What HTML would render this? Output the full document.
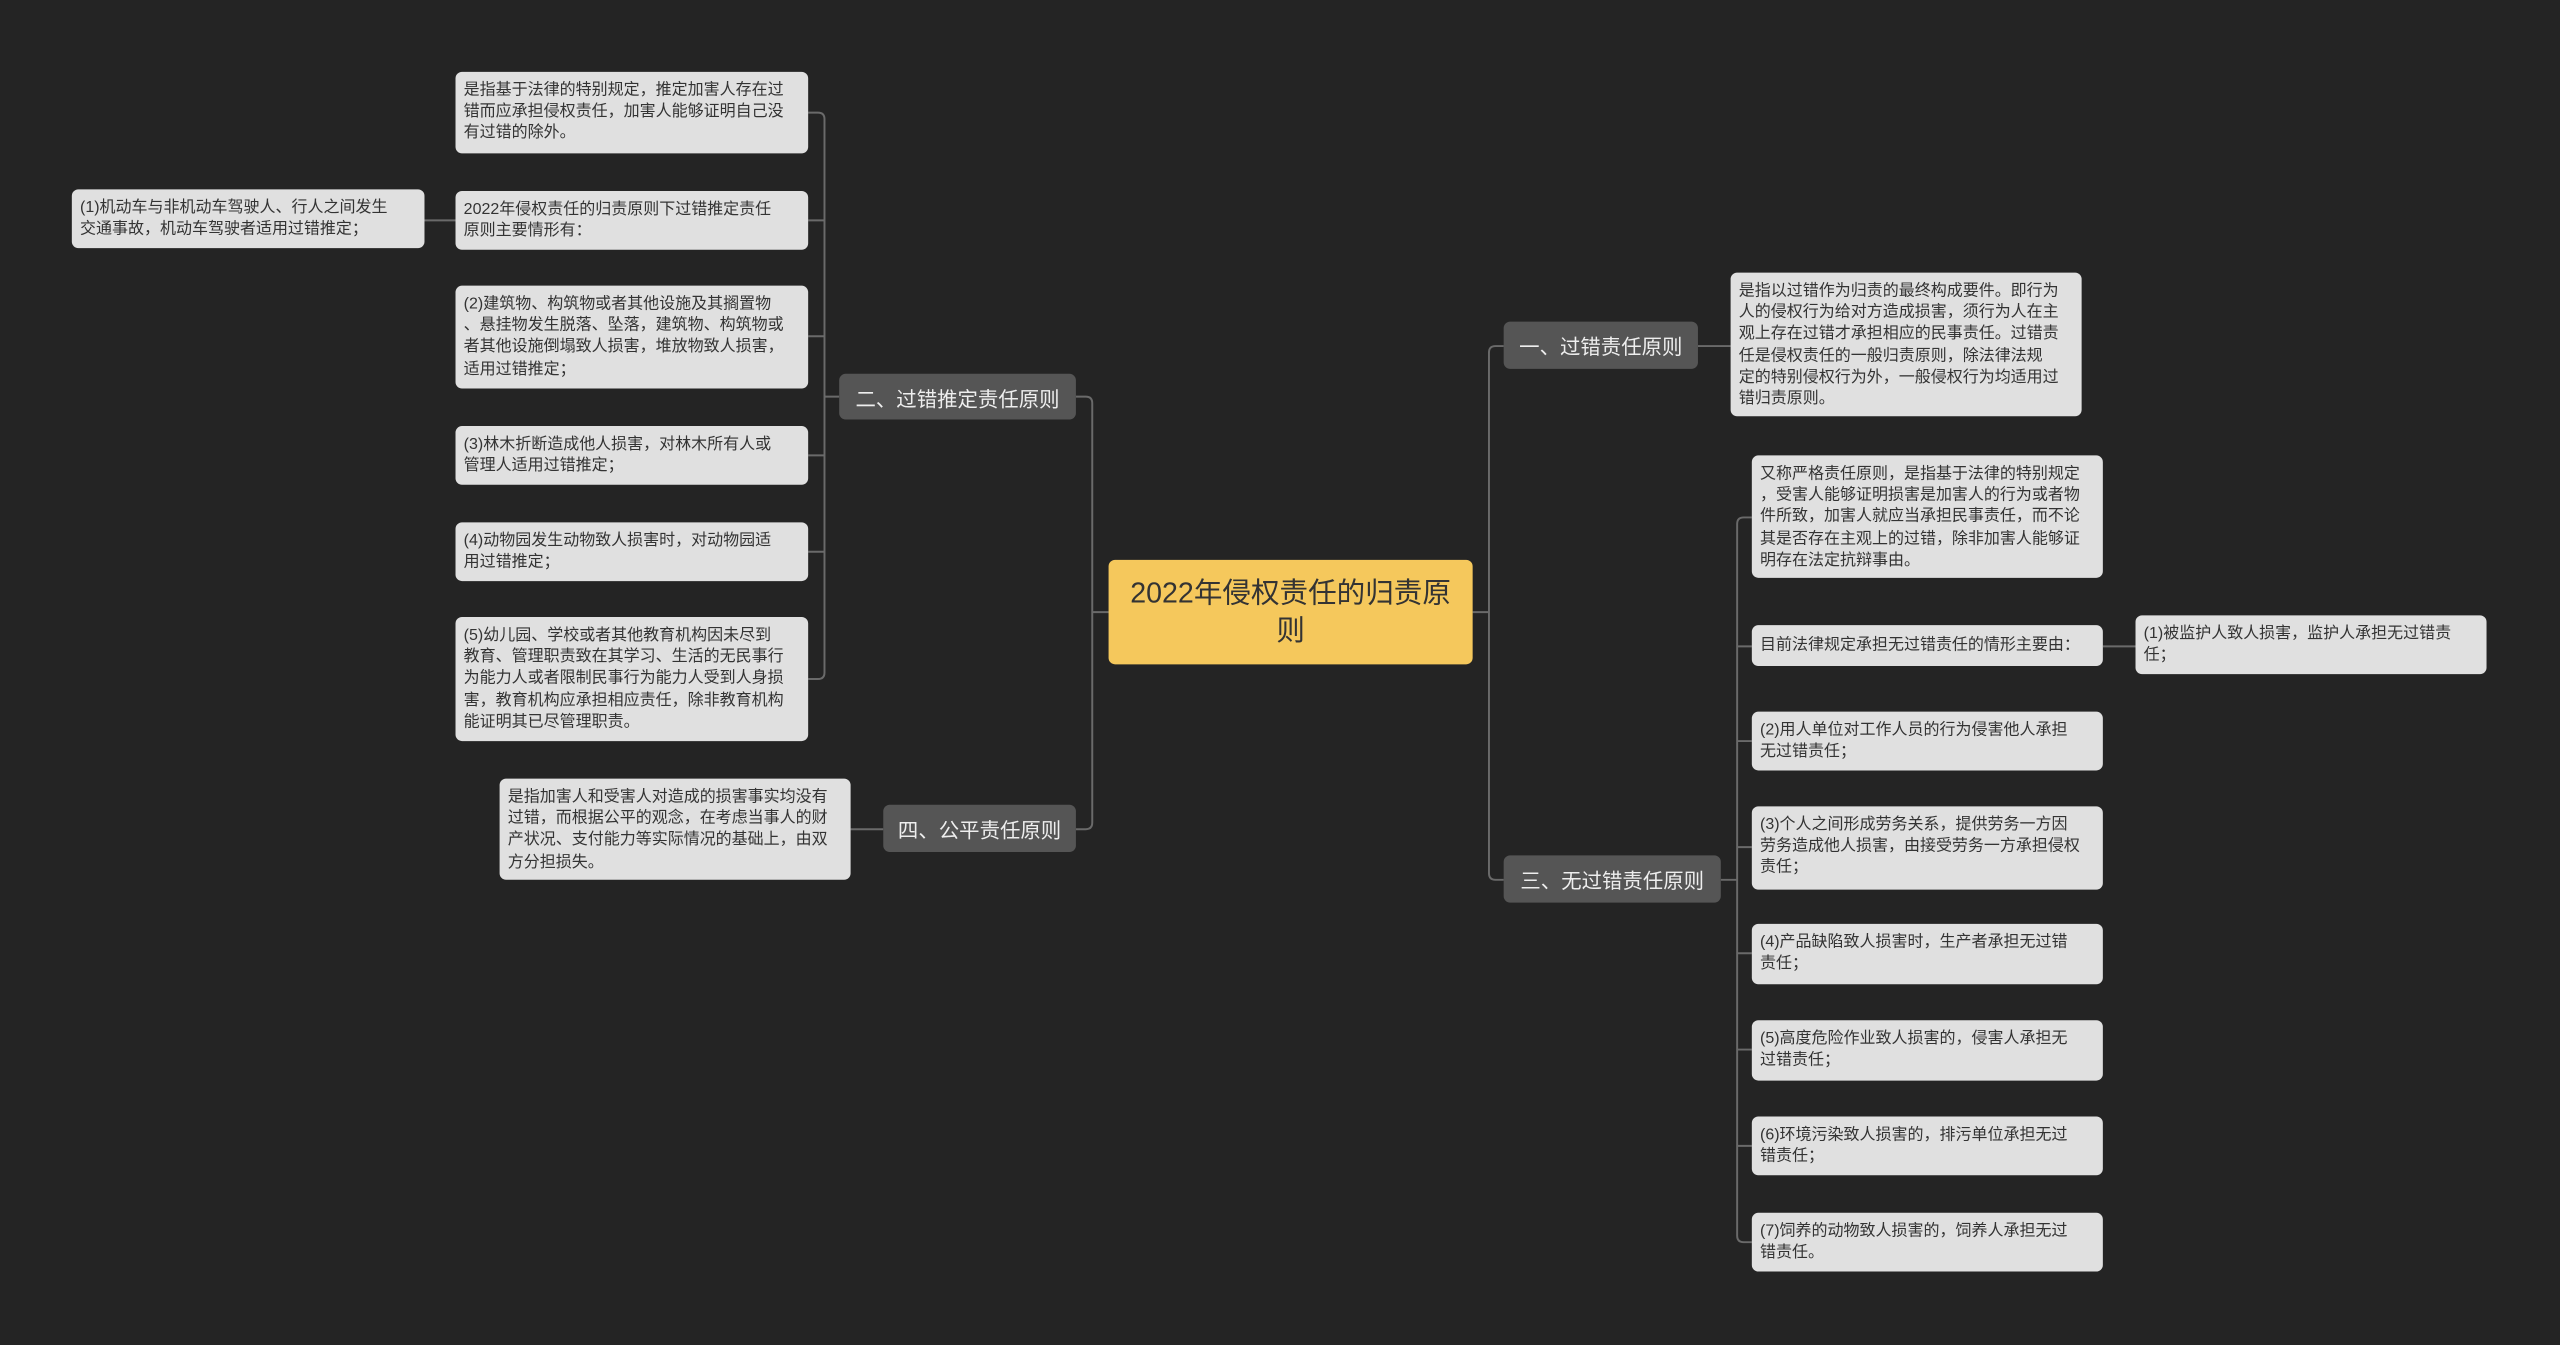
<!DOCTYPE html>
<html><head><meta charset="utf-8"><style>
html,body{margin:0;padding:0;background:#242424;overflow:hidden}
#w{position:absolute;left:0;top:0;width:1568px;height:824px;transform:scale(1.63265,1.6323);transform-origin:0 0;font-family:"Liberation Sans","Noto Sans CJK SC",sans-serif}
.c{position:absolute;background:#e0e0e0;color:#333;border-radius:4px;font-size:9.8px;line-height:13.2px;padding:5px 5px 4px;box-sizing:border-box;white-space:nowrap}
.b{position:absolute;background:#555;color:#eee;border-radius:4px;font-size:12.5px;box-sizing:border-box;display:flex;align-items:center;justify-content:center;white-space:nowrap}
.r{position:absolute;left:679px;top:343px;width:223px;height:64px;background:#f5c85c;color:#333;border-radius:4px;font-size:17.5px;line-height:23px;text-align:center;display:flex;align-items:center;justify-content:center}
svg{position:absolute;left:0;top:0}
</style></head><body><div id="w">
<svg width="1568" height="824" fill="none" stroke="#6a6a6a" stroke-width="1.2">
<path d="M679 375H669M659 243H665Q669 243 669 247V504Q669 508 665 508H659"/>
<path d="M902 375H912M921 212H916Q912 212 912 216V535Q912 539 916 539H921"/>
<path d="M514 243H505M495 69H501Q505 69 505 73V412Q505 416 501 416H495M495 135H505M495 206H505M495 279H505M495 338H505"/>
<path d="M279 135H260"/>
<path d="M541 508H521"/>
<path d="M1040 212H1060"/>
<path d="M1054 539H1064M1073 317H1068Q1064 317 1064 321V757Q1064 761 1068 761H1073M1064 396H1073M1064 454H1073M1064 519H1073M1064 584H1073M1064 643H1073M1064 702H1073"/>
<path d="M1288 396H1308"/>
</svg>
<div class="r">2022年侵权责任的归责原<br>则</div>
<div class="b" style="left:514px;top:229px;width:145px;height:28px">二、过错推定责任原则</div>
<div class="b" style="left:541px;top:493px;width:118px;height:29px">四、公平责任原则</div>
<div class="b" style="left:921px;top:197px;width:119px;height:29px">一、过错责任原则</div>
<div class="b" style="left:921px;top:524px;width:133px;height:29px">三、无过错责任原则</div>

<div class="c" style="left:279px;top:44px;width:216px;height:50px">是指基于法律的特别规定，推定加害人存在过<br>错而应承担侵权责任，加害人能够证明自己没<br>有过错的除外。</div>
<div class="c" style="left:279px;top:117px;width:216px;height:36px">2022年侵权责任的归责原则下过错推定责任<br>原则主要情形有：</div>
<div class="c" style="left:44px;top:116px;width:216px;height:36px">(1)机动车与非机动车驾驶人、行人之间发生<br>交通事故，机动车驾驶者适用过错推定；</div>
<div class="c" style="left:279px;top:175px;width:216px;height:63px">(2)建筑物、构筑物或者其他设施及其搁置物<br>、悬挂物发生脱落、坠落，建筑物、构筑物或<br>者其他设施倒塌致人损害，堆放物致人损害，<br>适用过错推定；</div>
<div class="c" style="left:279px;top:261px;width:216px;height:36px">(3)林木折断造成他人损害，对林木所有人或<br>管理人适用过错推定；</div>
<div class="c" style="left:279px;top:320px;width:216px;height:36px">(4)动物园发生动物致人损害时，对动物园适<br>用过错推定；</div>
<div class="c" style="left:279px;top:378px;width:216px;height:76px">(5)幼儿园、学校或者其他教育机构因未尽到<br>教育、管理职责致在其学习、生活的无民事行<br>为能力人或者限制民事行为能力人受到人身损<br>害，教育机构应承担相应责任，除非教育机构<br>能证明其已尽管理职责。</div>
<div class="c" style="left:306px;top:477px;width:215px;height:62px">是指加害人和受害人对造成的损害事实均没有<br>过错，而根据公平的观念，在考虑当事人的财<br>产状况、支付能力等实际情况的基础上，由双<br>方分担损失。</div>

<div class="c" style="left:1060px;top:167px;width:215px;height:88px">是指以过错作为归责的最终构成要件。即行为<br>人的侵权行为给对方造成损害，须行为人在主<br>观上存在过错才承担相应的民事责任。过错责<br>任是侵权责任的一般归责原则，除法律法规<br>定的特别侵权行为外，一般侵权行为均适用过<br>错归责原则。</div>
<div class="c" style="left:1073px;top:279px;width:215px;height:75px">又称严格责任原则，是指基于法律的特别规定<br>，受害人能够证明损害是加害人的行为或者物<br>件所致，加害人就应当承担民事责任，而不论<br>其是否存在主观上的过错，除非加害人能够证<br>明存在法定抗辩事由。</div>
<div class="c" style="left:1073px;top:383px;width:215px;height:25px;padding-top:6px">目前法律规定承担无过错责任的情形主要由：</div>
<div class="c" style="left:1308px;top:377px;width:215px;height:36px">(1)被监护人致人损害，监护人承担无过错责<br>任；</div>
<div class="c" style="left:1073px;top:436px;width:215px;height:36px">(2)用人单位对工作人员的行为侵害他人承担<br>无过错责任；</div>
<div class="c" style="left:1073px;top:494px;width:215px;height:51px">(3)个人之间形成劳务关系，提供劳务一方因<br>劳务造成他人损害，由接受劳务一方承担侵权<br>责任；</div>
<div class="c" style="left:1073px;top:566px;width:215px;height:37px">(4)产品缺陷致人损害时，生产者承担无过错<br>责任；</div>
<div class="c" style="left:1073px;top:625px;width:215px;height:37px">(5)高度危险作业致人损害的，侵害人承担无<br>过错责任；</div>
<div class="c" style="left:1073px;top:684px;width:215px;height:36px">(6)环境污染致人损害的，排污单位承担无过<br>错责任；</div>
<div class="c" style="left:1073px;top:743px;width:215px;height:36px">(7)饲养的动物致人损害的，饲养人承担无过<br>错责任。</div>
</div></body></html>
